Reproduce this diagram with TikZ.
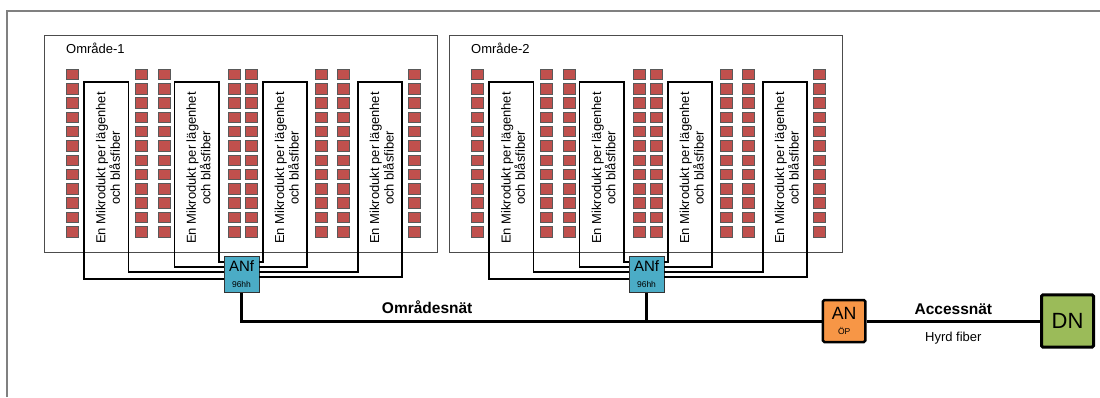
\documentclass[tikz,border=0pt]{standalone}
\usepackage{fontspec}
\setmainfont{Liberation Sans}
\usepackage{xcolor}
\usepackage{tikz}
\usetikzlibrary{positioning}

\definecolor{roomred}{HTML}{C0504D}
\definecolor{anfblue}{HTML}{4BACC6}
\definecolor{anorange}{HTML}{F79646}
\definecolor{dngreen}{HTML}{9BBB59}

\begin{document}
\begin{tikzpicture}[
  x=1pt, y=-1pt,
  font=\fontsize{13}{14.3}\selectfont,
  area/.style={
    rectangle, draw=black!70, line width=0.8pt, fill=white, anchor=north west,
    minimum width=393pt, minimum height=217pt, inner sep=0pt
  },
  room/.style={draw=black!65, line width=0.5pt, fill=roomred},
  duct/.style={draw=black, line width=1.6pt},
  ducttext/.style={rotate=90, align=center, inner sep=0pt},
  anf/.style={
    rectangle, draw=black!80, line width=0.8pt, fill=anfblue,
    minimum width=34.8pt, minimum height=36.2pt, align=center, inner sep=0pt
  },
  an/.style={
    rectangle, rounded corners=1.5pt, draw=black, line width=2.5pt, fill=anorange,
    minimum width=42.5pt, minimum height=42pt, align=center, inner sep=0pt
  },
  dn/.style={an, line width=3pt, fill=dngreen, minimum width=52pt, minimum height=52.3pt},
  trunk/.style={draw=black, line width=3pt},
  lbl/.style={font=\fontsize{15.5}{16}\selectfont\bfseries, inner sep=0pt},
  sublbl/.style={inner sep=0pt}
]

\useasboundingbox (0,0) rectangle (1100,397);
\draw[black!50, line width=1.5pt] (7,397) -- (7,11) -- (1100,11);

\foreach \a/\dx in {1/0,2/405}{
  \begin{scope}[xshift=\dx pt]
    \node[area] (area\a) at (43.5,34.5) {};
    \node[anchor=base west, inner sep=0pt] (name\a) at (66,53.5) {Område-\a};
    \foreach \cx in {66,135,158,228,245,315,337,408}
      \foreach \r in {0,...,11}
        \draw[room] (\cx,69+\r*14.3) rectangle ++(12,10.5);
    \node[anf] (anf\a) at (241.5,274.2)
      {\fontsize{15}{15}\selectfont ANf\\[1pt]\fontsize{8.5}{10}\selectfont 96hh};
    \foreach \i/\L/\yl/\yr/\s in {1/84/-4.8/2.2/west, 2/174.5/7.2/12.2/west,
                                  3/262.7/12.2/7.2/east, 4/357.7/2.2/-2.8/east}{
      \coordinate (md\a\i-l) at (\L,82);
      \coordinate (md\a\i-r) at (\L+44.5,82);
      \draw[duct] ([yshift=\yl pt]anf\a.\s) -| (md\a\i-l) -- (md\a\i-r)
        |- ([yshift=\yr pt]anf\a.\s);
      \node[ducttext] (mdtext\a\i) at (\L+24,168) {En Mikrodukt per lägenhet\\och blåsfiber};
    }
  \end{scope}
}

\node[an] (an) at (844.2,321)
  {\fontsize{17.7}{18}\selectfont AN\\[1pt]\fontsize{8.5}{10}\selectfont ÖP};
\node[dn] (dn) at (1067.5,321) {\fontsize{22}{22}\selectfont DN};

\draw[trunk] (anf1.south) |- node[lbl, above=6pt, pos=0.66] (omradesnat) {Områdesnät} (an.west);
\draw[trunk] (anf2.south) -- (anf2.south |- an.west);
\draw[trunk] (an.east) -- node[lbl, above=5pt] (accessnat) {Accessnät}
  node[sublbl, below=9.5pt] (hyrd) {Hyrd fiber} (dn.west);

\end{tikzpicture}
\end{document}
